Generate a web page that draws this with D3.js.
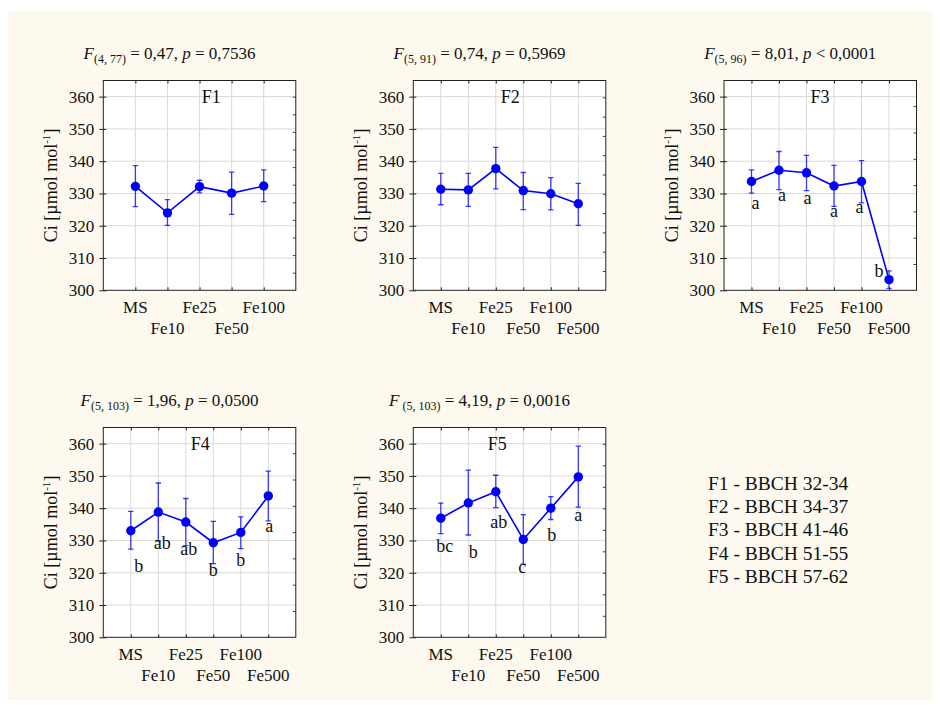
<!DOCTYPE html>
<html>
<head>
<meta charset="utf-8">
<script src="https://cdn.jsdelivr.net/npm/d3@7"></script>
<style>
  body { margin: 0; background: #ffffff; }
  svg { display: block; }
  text { font-family: "Liberation Serif", "DejaVu Serif", "Times New Roman", serif; fill: #111; }
</style>
</head>
<body>
<svg id="chart" width="940" height="711"></svg>
<script>
// ---- data -------------------------------------------------------------
const categories = ["MS", "Fe10", "Fe25", "Fe50", "Fe100", "Fe500"];
const yTicks = [300, 310, 320, 330, 340, 350, 360];

// Means and error-bar limits of Ci (µmol mol-1) per treatment
const f1Mean  = [332.2, 324.0, 332.1, 330.1, 332.3];
const f1Upper = [338.6, 328.1, 334.1, 336.6, 337.3];
const f1Lower = [325.9, 320.1, 330.2, 323.5, 327.5];

const f2Mean  = [331.3, 331.1, 337.7, 330.9, 329.9, 326.8];
const f2Upper = [336.2, 336.2, 344.3, 336.5, 334.9, 333.1];
const f2Lower = [326.5, 326.0, 331.4, 325.0, 324.9, 320.1];

const f3Mean  = [333.7, 337.2, 336.4, 332.3, 333.7, 303.3];
const f3Upper = [337.3, 343.0, 341.8, 338.7, 340.2, 306.0];
const f3Lower = [330.1, 331.2, 330.9, 326.0, 327.1, 300.6];
const f3Groups = ["a", "a", "a", "a", "a", "b"];

const f4Mean  = [333.0, 338.8, 335.7, 329.3, 332.5, 343.8];
const f4Upper = [339.0, 347.8, 343.0, 335.9, 337.3, 351.5];
const f4Lower = [327.3, 329.8, 328.4, 322.8, 327.5, 336.1];
const f4Groups = ["b", "ab", "ab", "b", "b", "a"];

const f5Mean  = [336.9, 341.6, 345.1, 330.3, 340.0, 349.7];
const f5Upper = [341.6, 351.8, 350.2, 338.0, 343.6, 359.2];
const f5Lower = [332.1, 331.7, 340.2, 322.7, 336.5, 340.3];
const f5Groups = ["bc", "b", "ab", "c", "b", "a"];

// ANOVA results shown above each panel
const dfText   = ["(4, 77)", "(5, 91)", "(5, 96)", "(5, 103)", "(5, 103)"];
const fValues  = ["0,47", "0,74", "8,01", "1,96", "4,19"];
const pRel     = ["=", "=", "<", "=", "="];
const pValues  = ["0,7536", "0,5969", "0,0001", "0,0500", "0,0016"];

const legendLines = ["F1 - BBCH 32-34", "F2 - BBCH 34-37", "F3 - BBCH 41-46",
                     "F4 - BBCH 51-55", "F5 - BBCH 57-62"];

// ---- panel table ----------------------------------------------------------
const series = [
  { name: "F1", mean: f1Mean, upper: f1Upper, lower: f1Lower, groups: null },
  { name: "F2", mean: f2Mean, upper: f2Upper, lower: f2Lower, groups: null },
  { name: "F3", mean: f3Mean, upper: f3Upper, lower: f3Lower, groups: f3Groups },
  { name: "F4", mean: f4Mean, upper: f4Upper, lower: f4Lower, groups: f4Groups },
  { name: "F5", mean: f5Mean, upper: f5Upper, lower: f5Lower, groups: f5Groups }
];

// layout of the five plot frames
const layout = [
  { left: 103.3, top: 80.5,  nameX: 108, rightStep: 17.6, subGap: false,
    groupShift: null },
  { left: 413.3, top: 80.5,  nameX: 97,  rightStep: 19.3, subGap: false,
    groupShift: null },
  { left: 724.0, top: 80.5,  nameX: 96,  rightStep: 26.3, subGap: false,
    groupShift: [[4, 27], [3, 31], [1, 31], [0, 31], [-2, 31], [-10, -3]] },
  { left: 103.3, top: 427.5, nameX: 97,  rightStep: 26.3, subGap: false,
    groupShift: [[8, 41], [4, 37], [3, 33], [0, 33], [0, 34], [1, 36]] },
  { left: 413.3, top: 427.5, nameX: 84,  rightStep: 21.5, subGap: true,
    groupShift: [[4, 34], [5, 55], [3, 36], [-1, 33], [1, 33], [0, 44]] }
];
const plotW = 192.5, plotH = 209.8;
const blue = "#0000ff";

const svg = d3.select("#chart");

// cream page background
svg.append("rect")
  .attr("x", 8).attr("y", 11).attr("width", 924).attr("height", 689)
  .attr("fill", "#fdf9ee");

series.forEach((s, i) => {
  const L = layout[i];
  const cats = categories.slice(0, s.mean.length);
  const g = svg.append("g");

  const x = d3.scalePoint().domain(cats).range([L.left, L.left + plotW]).padding(1);
  const y = d3.scaleLinear().domain([300, 365]).range([L.top + plotH, L.top]);
  const bottom = L.top + plotH;

  // plot area
  g.append("rect")
    .attr("x", L.left).attr("y", L.top).attr("width", plotW).attr("height", plotH)
    .attr("fill", "#ffffff");

  // grid
  g.append("g").selectAll("line").data(yTicks.filter(t => t > 300)).join("line")
    .attr("x1", L.left).attr("x2", L.left + plotW)
    .attr("y1", d => y(d)).attr("y2", d => y(d))
    .attr("stroke", "#d9d9d9").attr("stroke-width", 1);
  g.append("g").selectAll("line").data(cats).join("line")
    .attr("x1", d => x(d)).attr("x2", d => x(d))
    .attr("y1", L.top).attr("y2", bottom)
    .attr("stroke", "#d9d9d9").attr("stroke-width", 1);

  // left axis: outward ticks with labels
  const yAxis = g.append("g")
    .attr("transform", `translate(${L.left},0)`)
    .call(d3.axisLeft(y).tickValues(yTicks).tickSize(4).tickPadding(5));
  yAxis.select(".domain").remove();
  yAxis.selectAll("text").attr("font-size", 17).attr("font-family", null).attr("fill", "#111");
  yAxis.selectAll("line").attr("stroke", "#222");

  // inner ticks along left edge
  const yIn = g.append("g")
    .attr("transform", `translate(${L.left},0)`)
    .call(d3.axisRight(y).tickValues(yTicks).tickSize(3).tickFormat(""));
  yIn.select(".domain").remove();
  yIn.selectAll("line").attr("stroke", "#222");

  // category ticks along top and bottom edges
  const xTop = g.append("g")
    .attr("transform", `translate(0,${L.top})`)
    .call(d3.axisTop(x).tickSize(-3).tickFormat(""));
  xTop.select(".domain").remove();
  xTop.selectAll("line").attr("stroke", "#222");
  const xBot = g.append("g")
    .attr("transform", `translate(0,${bottom})`)
    .call(d3.axisBottom(x).tickSize(-3).tickFormat(""));
  xBot.select(".domain").remove();
  xBot.selectAll("line").attr("stroke", "#222");

  // secondary scale ticks on the right edge
  const nRight = Math.floor(plotH / L.rightStep);
  const r = d3.scaleLinear().domain([0, plotH / L.rightStep]).range([bottom, L.top]);
  const rAxis = g.append("g")
    .attr("transform", `translate(${L.left + plotW},0)`)
    .call(d3.axisLeft(r).tickValues(d3.range(1, nRight + 1)).tickSize(3).tickFormat(""));
  rAxis.select(".domain").remove();
  rAxis.selectAll("line").attr("stroke", "#444");

  // frame
  g.append("rect")
    .attr("x", L.left).attr("y", L.top).attr("width", plotW).attr("height", plotH)
    .attr("fill", "none").attr("stroke", "#222").attr("stroke-width", 1);

  // staggered category labels
  g.append("g").selectAll("text").data(cats).join("text")
    .attr("x", d => x(d))
    .attr("y", (d, k) => bottom + (k % 2 === 0 ? 23 : 44))
    .attr("text-anchor", "middle").attr("font-size", 17)
    .text(d => d);

  // y-axis title
  const cy = L.top + plotH / 2;
  const yt = g.append("text")
    .attr("transform", `translate(${L.left - 46},${cy}) rotate(-90)`)
    .attr("text-anchor", "middle").attr("font-size", 18);
  yt.append("tspan").text("Ci [µmol mol");
  yt.append("tspan").attr("font-size", 11).attr("dy", -7).text("-1");
  yt.append("tspan").attr("dy", 7).text("]");

  // ANOVA title
  const tt = g.append("text")
    .attr("x", L.left + plotW / 2 - 30).attr("y", L.top - 21.5)
    .attr("text-anchor", "middle").attr("font-size", 17);
  tt.append("tspan").attr("font-style", "italic").text("F");
  tt.append("tspan").attr("font-size", 12).attr("dy", 4)
    .text((L.subGap ? "\u00a0" : "") + dfText[i]);
  tt.append("tspan").attr("dy", -4).text(" = " + fValues[i] + ", ");
  tt.append("tspan").attr("font-style", "italic").text("p");
  tt.append("tspan").text(" " + pRel[i] + " " + pValues[i]);

  // panel name
  g.append("text")
    .attr("x", L.left + L.nameX).attr("y", L.top + 22)
    .attr("text-anchor", "middle").attr("font-size", 18)
    .text(s.name);

  // series group clipped to the plot frame
  const clipId = "clip" + i;
  g.append("clipPath").attr("id", clipId).append("rect")
    .attr("x", L.left).attr("y", L.top).attr("width", plotW).attr("height", plotH);
  const data = cats.map((c, k) => ({ c, m: s.mean[k], hi: s.upper[k], lo: s.lower[k] }));
  const ds = g.append("g").attr("clip-path", `url(#${clipId})`);

  // error bars
  const eb = ds.append("g").attr("stroke", blue).attr("stroke-opacity", 0.75).attr("stroke-width", 1.3);
  eb.selectAll("line.v").data(data).join("line").attr("class", "v")
    .attr("x1", d => x(d.c)).attr("x2", d => x(d.c))
    .attr("y1", d => y(d.hi)).attr("y2", d => y(d.lo));
  eb.selectAll("line.hi").data(data).join("line").attr("class", "hi")
    .attr("x1", d => x(d.c) - 2.7).attr("x2", d => x(d.c) + 2.7)
    .attr("y1", d => y(d.hi)).attr("y2", d => y(d.hi));
  eb.selectAll("line.lo").data(data).join("line").attr("class", "lo")
    .attr("x1", d => x(d.c) - 2.7).attr("x2", d => x(d.c) + 2.7)
    .attr("y1", d => y(d.lo)).attr("y2", d => y(d.lo));

  // mean line and points
  ds.append("path").datum(data)
    .attr("d", d3.line().x(d => x(d.c)).y(d => y(d.m)))
    .attr("fill", "none").attr("stroke", blue).attr("stroke-width", 1.6);
  ds.selectAll("circle").data(data).join("circle")
    .attr("cx", d => x(d.c)).attr("cy", d => y(d.m)).attr("r", 4.7)
    .attr("fill", blue);

  // homogeneous group letters
  if (s.groups) {
    g.append("g").selectAll("text").data(data).join("text")
      .attr("x", (d, k) => x(d.c) + L.groupShift[k][0])
      .attr("y", (d, k) => y(d.m) + L.groupShift[k][1])
      .attr("text-anchor", "middle").attr("font-size", 18)
      .text((d, k) => s.groups[k]);
  }
});

// growth-stage key
svg.append("g").selectAll("text").data(legendLines).join("text")
  .attr("x", 708).attr("y", (d, k) => 490 + k * 23.2)
  .attr("font-size", 19.5)
  .text(d => d);
</script>
</body>
</html>
